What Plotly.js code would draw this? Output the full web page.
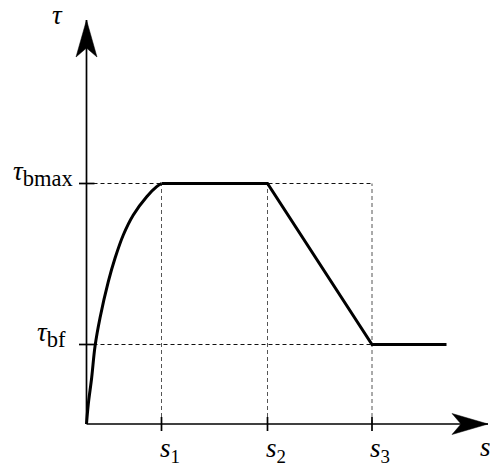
<!DOCTYPE html>
<html>
<head>
<meta charset="utf-8">
<script src="https://cdn.plot.ly/plotly-3.0.1.min.js"></script>
<style>html,body{margin:0;padding:0;background:#fff;}#chart{width:490px;height:466px;}</style>
</head>
<body>
<div id="chart"></div>
<script>
// Key slip values and bond stresses
const S1 = 1.5, S2 = 3.62, S3 = 5.71, S_END = 7.2;
const TAU_MAX = 4.81, TAU_F = 1.59;
const X_TIP = 8.03, Y_TIP = 8.08;

// Ascending (nonlinear) branch
const sCurve   = [0, 0.036, 0.104, 0.17, 0.27, 0.436, 0.57, 0.736, 0.936, 1.204, 1.404, S1];
const tauCurve = [0, 0.40, 0.93, 1.55, 2.12, 2.846, 3.314, 3.78, 4.18, 4.546, 4.746, TAU_MAX];

// Plateau, softening and residual branches
const sRest   = [S1, S2, S3, S_END];
const tauRest = [TAU_MAX, TAU_MAX, TAU_F, TAU_F];

// Tick positions and labels
const sTicks = [S1, S2, S3];
const sTickText = ['<i>s</i><sub>1</sub>', '<i>s</i><sub>2</sub>', '<i>s</i><sub>3</sub>'];
const tauTicks = [TAU_MAX, TAU_F];
const tauTickText = [
  '<i>τ</i><sub><span style="font-size:22.5px">bmax</span></sub>',
  '<i>τ</i><sub><span style="font-size:22.5px">bf</span></sub>'
];

const FONT = 'Liberation Serif';
const dashV = {color: '#555', width: 1, dash: '4px,3px'};
const dashH = {color: '#111', width: 1, dash: '4px,3px'};
const axisLine = {color: '#000', width: 1.7};

const traces = [
  {x: sCurve, y: tauCurve, mode: 'lines', line: {color: '#000', width: 3, shape: 'spline', smoothing: 1}, hoverinfo: 'skip'},
  {x: sRest, y: tauRest, mode: 'lines', line: {color: '#000', width: 3}, hoverinfo: 'skip'}
];

const shapes = [];
// guide lines
sTicks.forEach(function(s) {
  shapes.push({type: 'line', xref: 'x', yref: 'y', x0: s, x1: s, y0: 0, y1: TAU_MAX, line: dashV, layer: 'below'});
});
tauTicks.forEach(function(t) {
  shapes.push({type: 'line', xref: 'x', yref: 'y', x0: 0, x1: S3, y0: t, y1: t, line: dashH, layer: 'below'});
});
// axes
shapes.push({type: 'line', xref: 'x', yref: 'y', x0: 0, x1: X_TIP, y0: 0, y1: 0, line: axisLine});
shapes.push({type: 'line', xref: 'x', yref: 'y', x0: 0, x1: 0, y0: 0, y1: Y_TIP, line: axisLine});
// arrowheads
shapes.push({type: 'path', xref: 'x', yref: 'y', xsizemode: 'pixel', ysizemode: 'pixel',
  xanchor: X_TIP, yanchor: 0, path: 'M 0 0 L -36 10.5 L -27 0 L -36 -10.5 Z',
  fillcolor: '#000', line: {color: '#000', width: 0.5}});
shapes.push({type: 'path', xref: 'x', yref: 'y', xsizemode: 'pixel', ysizemode: 'pixel',
  xanchor: 0, yanchor: Y_TIP, path: 'M 0 0 L -10.5 -37 L 0 -28 L 10.5 -37 Z',
  fillcolor: '#000', line: {color: '#000', width: 0.5}});
// tick marks crossing the axes
sTicks.forEach(function(s) {
  shapes.push({type: 'line', xref: 'x', yref: 'y', x0: s, x1: s, ysizemode: 'pixel', yanchor: 0, y0: -7, y1: 7, line: axisLine});
});
tauTicks.forEach(function(t) {
  shapes.push({type: 'line', xref: 'x', yref: 'y', y0: t, y1: t, xsizemode: 'pixel', xanchor: 0, x0: -7.5, x1: 8, line: axisLine});
});

const annotations = [];
sTicks.forEach(function(s, i) {
  annotations.push({x: s, y: 0, xref: 'x', yref: 'y', text: sTickText[i], showarrow: false,
    xanchor: 'left', yanchor: 'middle', xshift: -4, yshift: -26, font: {family: FONT, size: 27, color: '#000'}});
});
const tauShift = [-11.5, -18.5];
tauTicks.forEach(function(t, i) {
  annotations.push({x: 0, y: t, xref: 'x', yref: 'y', text: tauTickText[i], showarrow: false,
    xanchor: 'right', yanchor: 'middle', xshift: tauShift[i], yshift: 10, font: {family: FONT, size: 27, color: '#000'}});
});
annotations.push({x: 0, y: Y_TIP, xref: 'x', yref: 'y', text: '<i>τ</i>', showarrow: false,
  xanchor: 'center', yanchor: 'middle', xshift: -29.5, yshift: 5, font: {family: FONT, size: 27, color: '#000'}});
annotations.push({x: X_TIP, y: 0, xref: 'x', yref: 'y', text: '<i>s</i>', showarrow: false,
  xanchor: 'center', yanchor: 'middle', xshift: -3, yshift: -23, font: {family: FONT, size: 27, color: '#000'}});

const layout = {
  width: 490, height: 466,
  margin: {l: 0, r: 0, t: 0, b: 0},
  paper_bgcolor: '#fff', plot_bgcolor: '#fff',
  showlegend: false,
  font: {family: FONT, size: 27, color: '#000'},
  xaxis: {range: [-1.73, 8.07], visible: false, fixedrange: true},
  yaxis: {range: [-0.84, 8.48], visible: false, fixedrange: true},
  shapes: shapes,
  annotations: annotations
};

Plotly.newPlot('chart', traces, layout, {staticPlot: true, displayModeBar: false});
</script>
</body>
</html>
